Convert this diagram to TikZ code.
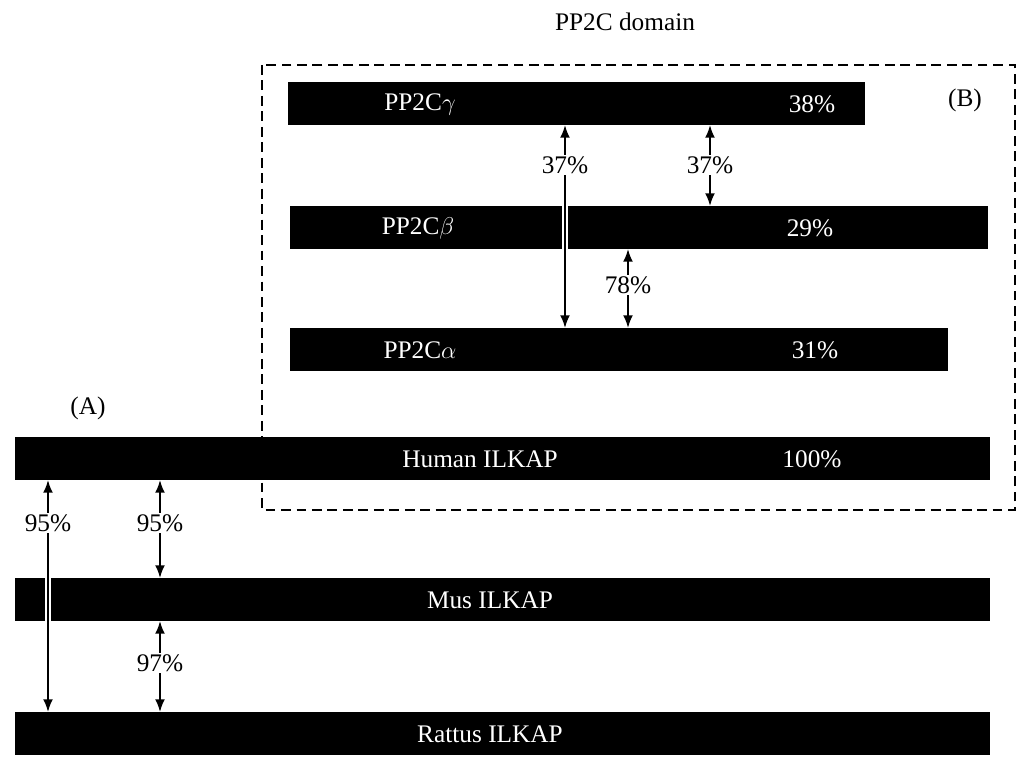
\documentclass[tikz,border=0pt]{standalone}
\usepackage{fontspec}
\setmainfont{Liberation Serif}
\usetikzlibrary{arrows.meta}

\tikzset{
	bar/.style={fill=black, draw=none, inner sep=0pt, anchor=north west},
	lbl/.style={text=white, font=\fontsize{18}{20}\selectfont},
	pct/.style={font=\fontsize{18}{20}\selectfont, fill=white, inner sep=1pt},
	arr/.style={line width=1.3pt, -{Latex[length=9pt,width=7pt]}}
}

\begin{document}
\begin{tikzpicture}[x=0.025cm, y=-0.025cm]
	\useasboundingbox (0,0) rectangle (1024,768);
	\draw[line width=1.3pt, dash pattern=on 7pt off 4pt] (262,65) rectangle (1015,510);
	\node[font=\fontsize{18}{20}\selectfont] (dom) at (625,22) {PP2C domain};
	\node[font=\fontsize{18}{20}\selectfont] (B) at (965,100) {(B)};
	\node[font=\fontsize{18}{20}\selectfont] (A) at (88,408) {(A)};
	
	% bars
	\node[bar, minimum width=577*0.025cm, minimum height=43*0.025cm] (g) at (288,82) {};
	\node[bar, minimum width=698*0.025cm, minimum height=43*0.025cm] (b) at (290,206) {};
	\node[bar, minimum width=658*0.025cm, minimum height=43*0.025cm] (a) at (290,328) {};
	\node[bar, minimum width=975*0.025cm, minimum height=43*0.025cm] (h) at (15,437) {};
	\node[bar, minimum width=975*0.025cm, minimum height=43*0.025cm] (m) at (15,578) {};
	\node[bar, minimum width=975*0.025cm, minimum height=43*0.025cm] (r) at (15,712) {};
	
	\node[lbl] at (420,104) {PP2C$\gamma$};
	\node[lbl] at (812,104) {38\%};
	\node[lbl] at (418,228) {PP2C$\beta$};
	\node[lbl] at (810,228) {29\%};
	\node[lbl] at (420,350) {PP2C$\alpha$};
	\node[lbl] at (815,350) {31\%};
	\node[lbl] at (480,459) {Human ILKAP};
	\node[lbl] at (812,459) {100\%};
	\node[lbl] at (490,600) {Mus ILKAP};
	\node[lbl] at (490,734) {Rattus ILKAP};
	
	% percentages
	\node[pct] (p1) at (565,165) {37\%};
	\node[pct] (p2) at (710,165) {37\%};
	\node[pct] (p3) at (628,285) {78\%};
	\node[pct] (p4) at (48,523) {95\%};
	\node[pct] (p5) at (160,523) {95\%};
	\node[pct] (p6) at (160,663) {97\%};
	
	% arrows
	\draw[arr] (p1.north) -- (565,125);
	\draw[white, line width=4pt] (565,206) -- (565,249);
	\draw[arr] (p1.south) -- (565,328);
	\draw[arr] (p2.north) -- (710,125);
	\draw[arr] (p2.south) -- (710,206);
	\draw[arr] (p3.north) -- (628,249);
	\draw[arr] (p3.south) -- (628,328);
	\draw[arr] (p4.north) -- (48,480);
	\draw[white, line width=4pt] (48,578) -- (48,621);
	\draw[arr] (p4.south) -- (48,712);
	\draw[arr] (p5.north) -- (160,480);
	\draw[arr] (p5.south) -- (160,578);
	\draw[arr] (p6.north) -- (160,621);
	\draw[arr] (p6.south) -- (160,712);
\end{tikzpicture}
\end{document}
